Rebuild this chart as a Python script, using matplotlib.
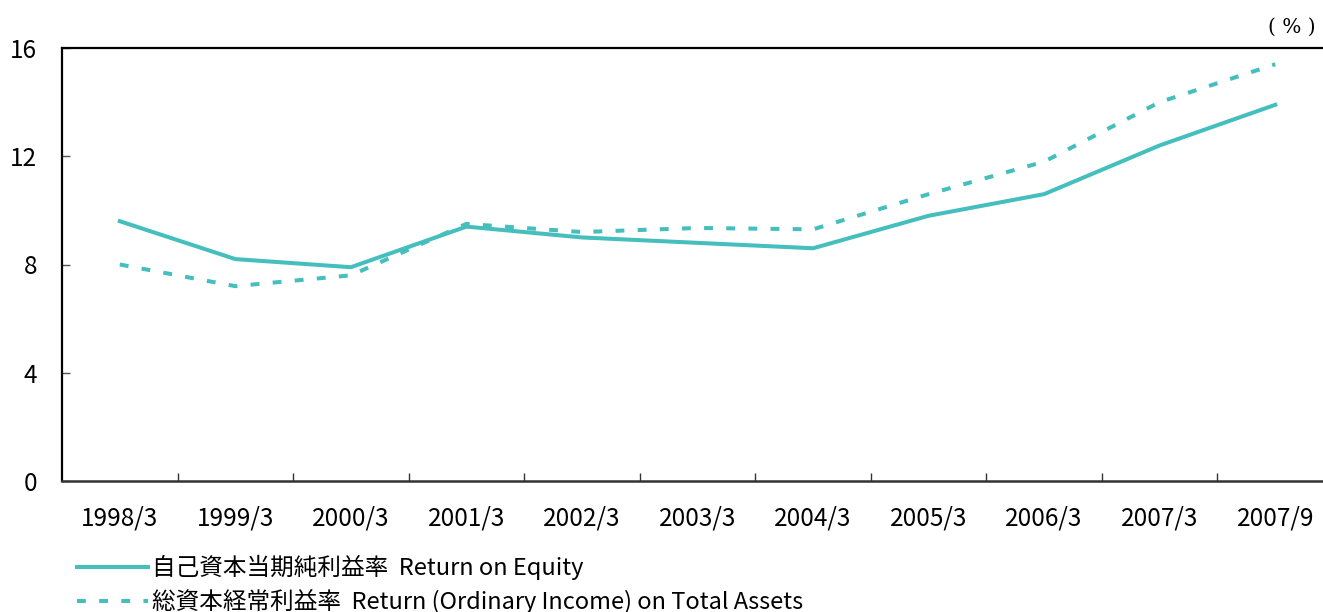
import matplotlib
matplotlib.use("Agg")
import matplotlib.pyplot as plt
from matplotlib.ticker import FixedLocator

plt.rcParams['font.family'] = ['Noto Sans CJK JP', 'DejaVu Sans']

categories = ["1998/3", "1999/3", "2000/3", "2001/3", "2002/3", "2003/3",
              "2004/3", "2005/3", "2006/3", "2007/3", "2007/9"]
roe = [9.6, 8.2, 7.9, 9.4, 9.0, 8.8, 8.6, 9.8, 10.6, 12.4, 13.9]
roa = [8.0, 7.2, 7.6, 9.5, 9.2, 9.35, 9.3, 10.6, 11.8, 14.0, 15.4]
yticks = [0, 4, 8, 12, 16]
label_roe = "自己資本当期純利益率  Return on Equity"
label_roa = "総資本経常利益率  Return (Ordinary Income) on Total Assets"

W, H = 1323, 612
fig = plt.figure(figsize=(W / 100, H / 100), dpi=100)
left, right, top, bottom = 62, 1333, 48, 481
ax = fig.add_axes([left / W, 1 - bottom / H, (right - left) / W, (bottom - top) / H])

teal = "#45BEBE"
x = list(range(len(categories)))
l1, = ax.plot(x, roe, color=teal, lw=2.9, solid_joinstyle='miter', label=label_roe)
l2, = ax.plot(x, roa, color=teal, lw=2.9, dashes=(2.2, 3.3), dash_capstyle='butt',
              label=label_roa)

ax.set_xlim(-0.5, len(categories) - 0.5)
ax.set_ylim(0, 16)
ax.set_xticks(x)
ax.set_xticklabels(categories)
ax.xaxis.set_minor_locator(FixedLocator([i + 0.5 for i in range(len(categories) - 1)]))
ax.tick_params(axis='x', which='major', length=0, pad=17.5, labelsize=17.5)
ax.tick_params(axis='x', which='minor', direction='in', length=6, width=1, color='#333333')
ax.set_yticks(yticks)
ax.tick_params(axis='y', direction='in', length=6, width=1, color='#555555',
               pad=18, labelsize=17.5)

for s in ['left', 'top']:
    ax.spines[s].set_linewidth(1.6)
    ax.spines[s].set_color('black')
ax.spines['bottom'].set_linewidth(1.8)
ax.spines['bottom'].set_color('#333333')
ax.spines['right'].set_visible(False)

fig.text(1292 / W, 1 - 27 / H, "( % )", ha='center', va='center', fontsize=14.5,
         family=['DejaVu Serif'])

fig.legend(handles=[l1, l2], loc='upper left', bbox_to_anchor=(77 / W, 1 - 555 / H),
           frameon=False, fontsize=17, handlelength=3.0, handletextpad=0.17,
           labelspacing=0.38, borderaxespad=0, borderpad=0)

fig.savefig("out.png", dpi=100)
